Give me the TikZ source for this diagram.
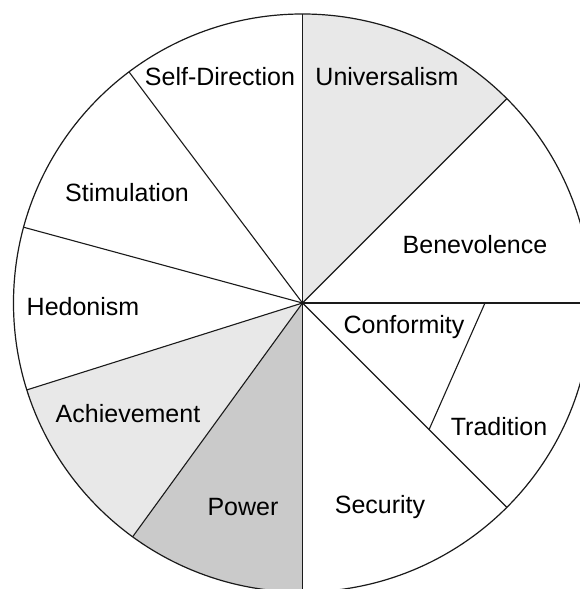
\documentclass[tikz,border=0pt]{standalone}
\usepackage{fontspec}
\setmainfont{Liberation Sans}
\usetikzlibrary{calc}
\definecolor{ink}{HTML}{1A1A1A}
\definecolor{lightshade}{HTML}{E8E8E8}
\definecolor{darkshade}{HTML}{CACACA}
\tikzset{
  every node/.style={font=\fontsize{25}{30}\selectfont},
  divider/.style={draw=ink, line width=1.1pt},
  rim/.style={draw=ink, line width=1.2pt},
  lightwedge/.style={fill=lightshade},
  darkwedge/.style={fill=darkshade},
  valuelabel/.style={text=black, inner sep=0pt, anchor=center},
}
\newcommand{\wheelR}{289}

\begin{document}
\begin{tikzpicture}[x=1pt,y=1pt]
\clip (-302.5,-286) rectangle (277.5,303);
\fill[white] (-302.5,-286) rectangle (277.5,303);
\coordinate (c) at (0,0);
% shaded sectors
\fill[lightwedge] (c) -- (45:\wheelR) arc[start angle=45, end angle=90, radius=\wheelR] -- cycle;
\fill[lightwedge] (c) -- (197.5:\wheelR) arc[start angle=197.5, end angle=234, radius=\wheelR] -- cycle;
\fill[darkwedge] (c) -- (234:\wheelR) arc[start angle=234, end angle=270, radius=\wheelR] -- cycle;
% spokes and rim
\foreach \a in {0,45,90,126.9,164.8,197.5,234,270,315}
  \draw[divider] (c) -- (\a:\wheelR);
\coordinate (ct1) at (0:182.5);
\coordinate (ct2) at (-45:179);
\draw[divider] (ct1) -- (ct2);
\draw[rim] (c) circle (\wheelR);
% value labels
\node[valuelabel] (selfdir) at (-82.5,226) {Self-Direction};
\node[valuelabel] (univ) at (84.5,226) {Universalism};
\node[valuelabel] (stim) at (-175.5,110) {Stimulation};
\node[valuelabel] (benev) at (172.5,58) {Benevolence};
\node[valuelabel] (hedon) at (-219.5,-4) {Hedonism};
\node[valuelabel] (conf) at (101.5,-24) {Conformity};
\node[valuelabel] (achiev) at (-174.5,-111) {Achievement};
\node[valuelabel] (trad) at (196.5,-124) {Tradition};
\node[valuelabel] (power) at (-59.5,-204) {Power};
\node[valuelabel] (secur) at (77.5,-204) {Security};
\end{tikzpicture}
\end{document}
